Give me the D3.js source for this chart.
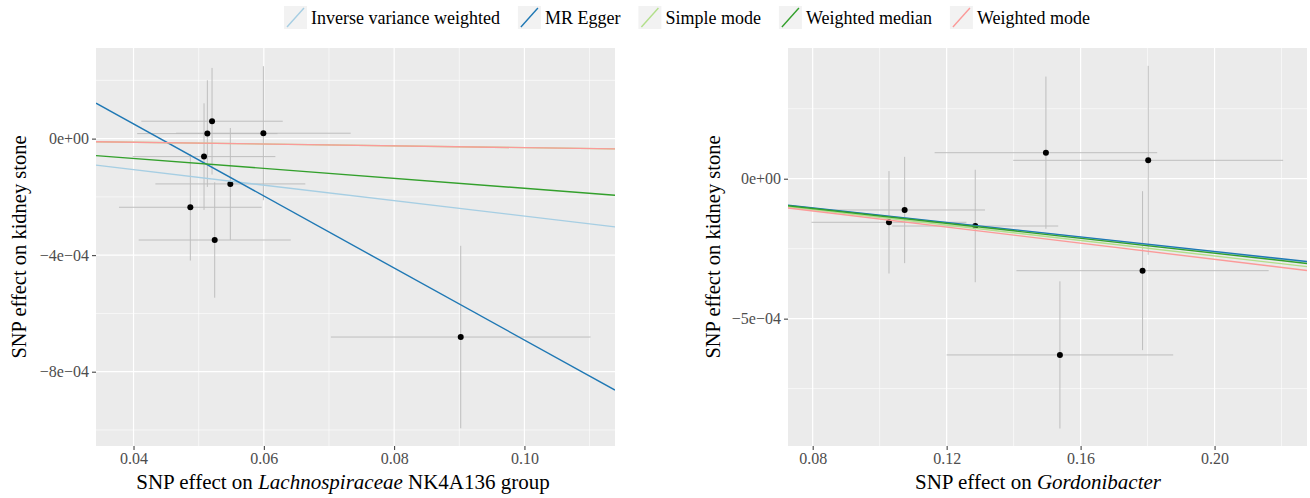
<!DOCTYPE html>
<html>
<head>
<meta charset="utf-8">
<script src="https://cdn.jsdelivr.net/npm/d3@7"></script>
<style>
  body { margin: 0; background: #fff; }
  text { font-family: "Liberation Serif", "Times New Roman", serif; }
</style>
</head>
<body>
<div id="chart"></div>
<script>
// Width and height
var chart_width  = 1310;
var chart_height = 498;

// MR methods (legend order) and colours
var methods       = ["Inverse variance weighted", "MR Egger", "Simple mode", "Weighted median", "Weighted mode"];
var method_colors = ["#a6cee3", "#1f78b4", "#b2df8a", "#33a02c", "#fb9a99"];

// Lachnospiraceae NK4A136 group SNPs
var lach_bx   = [0.05205, 0.05133, 0.05993, 0.05082, 0.05486, 0.04872, 0.05246, 0.09022];
var lach_by   = [5.97e-5, 1.72e-5, 1.85e-5, -6.18e-5, -1.555e-4, -2.356e-4, -3.48e-4, -6.81e-4];
var lach_se_x = [0.01085, 0.01077, 0.0134, 0.01095, 0.01151, 0.01095, 0.01167, 0.01993];
var lach_se_y = [1.83e-4, 1.83e-4, 2.3e-4, 1.83e-4, 1.92e-4, 1.83e-4, 1.98e-4, 3.13e-4];
var lach_intercept = [0, 5.447e-4, 0, 0, 0];
var lach_slope     = [-2.66e-3, -0.01236, -3.1e-4, -1.705e-3, -3.1e-4];
var lach_x_ticks = [0.04, 0.06, 0.08, 0.10];
var lach_x_minor = [0.05, 0.07, 0.09, 0.11];
var lach_y_ticks = [0, -4e-4, -8e-4];
var lach_y_minor = [2e-4, -2e-4, -6e-4, -1e-3];

// Gordonibacter SNPs
var gord_bx   = [0.10278, 0.10746, 0.12854, 0.14964, 0.18018, 0.1785, 0.15382];
var gord_by   = [-1.557e-4, -1.118e-4, -1.69e-4, 9.29e-5, 6.57e-5, -3.286e-4, -6.296e-4];
var gord_se_x = [0.02313, 0.024, 0.02478, 0.03323, 0.0403, 0.03766, 0.03383];
var gord_se_y = [1.83e-4, 1.9e-4, 2.01e-4, 2.72e-4, 3.375e-4, 2.84e-4, 2.63e-4];
var gord_intercept = [0, 0, 0, 0, 0];
var gord_slope     = [-1.31e-3, -1.30e-3, -1.38e-3, -1.33e-3, -1.44e-3];
var gord_x_ticks = [0.08, 0.12, 0.16, 0.20];
var gord_x_minor = [0.10, 0.14, 0.18, 0.22];
var gord_y_ticks = [0, -5e-4];
var gord_y_minor = [2.5e-4, -2.5e-4, -7.5e-4];

// Create SVG
var svg = d3.select("#chart")
  .append("svg")
  .attr("width", chart_width)
  .attr("height", chart_height);

// scientific labels like ggplot: 0e+00, −4e−04
function sci(v){
  if (v === 0) return "0e+00";
  var e = Math.floor(Math.log10(Math.abs(v)));
  var m = Math.round(v / Math.pow(10, e));
  var ee = Math.abs(e) < 10 ? "0" + Math.abs(e) : "" + Math.abs(e);
  return (m < 0 ? "\u2212" : "") + Math.abs(m) + "e" + (e < 0 ? "\u2212" : "+") + ee;
}

function draw_panel(p){
  var x = d3.scaleLinear().domain(p.xdom).range([p.left, p.right]);
  var y = d3.scaleLinear().domain(p.ydom).range([p.bottom, p.top]);
  var g = svg.append("g");

  g.append("rect")
    .attr("x", p.left).attr("y", p.top)
    .attr("width", p.right - p.left).attr("height", p.bottom - p.top)
    .attr("fill", "#ebebeb");

  // grid
  g.selectAll(".xminor").data(p.x_minor.filter(function(d){ return x(d) > p.left && x(d) < p.right; }))
    .enter().append("line")
    .attr("x1", function(d){ return x(d); }).attr("x2", function(d){ return x(d); })
    .attr("y1", p.top).attr("y2", p.bottom)
    .attr("stroke", "#fff").attr("stroke-width", 0.6);
  g.selectAll(".yminor").data(p.y_minor)
    .enter().append("line")
    .attr("y1", function(d){ return y(d); }).attr("y2", function(d){ return y(d); })
    .attr("x1", p.left).attr("x2", p.right)
    .attr("stroke", "#fff").attr("stroke-width", 0.6);
  g.selectAll(".xmajor").data(p.x_ticks)
    .enter().append("line")
    .attr("x1", function(d){ return x(d); }).attr("x2", function(d){ return x(d); })
    .attr("y1", p.top).attr("y2", p.bottom)
    .attr("stroke", "#fff").attr("stroke-width", 1.2);
  g.selectAll(".ymajor").data(p.y_ticks)
    .enter().append("line")
    .attr("y1", function(d){ return y(d); }).attr("y2", function(d){ return y(d); })
    .attr("x1", p.left).attr("x2", p.right)
    .attr("stroke", "#fff").attr("stroke-width", 1.2);

  // axes
  var xaxis = g.append("g")
    .attr("transform", "translate(0," + p.bottom + ")")
    .call(d3.axisBottom(x).tickValues(p.x_ticks).tickFormat(d3.format(".2f")).tickSize(4).tickPadding(3));
  var yaxis = g.append("g")
    .attr("transform", "translate(" + p.left + ",0)")
    .call(d3.axisLeft(y).tickValues(p.y_ticks).tickFormat(sci).tickSize(4).tickPadding(3));
  [xaxis, yaxis].forEach(function(a){
    a.attr("font-family", null);
    a.select(".domain").remove();
    a.selectAll("line").attr("stroke", "#333");
    a.selectAll("text").attr("fill", "#4d4d4d").style("font-size", "16px");
  });

  // error bars
  var n = d3.range(p.bx.length);
  g.selectAll(".ebv").data(n).enter().append("line")
    .attr("x1", function(i){ return x(p.bx[i]); }).attr("x2", function(i){ return x(p.bx[i]); })
    .attr("y1", function(i){ return y(p.by[i] - p.se_y[i]); })
    .attr("y2", function(i){ return y(p.by[i] + p.se_y[i]); })
    .attr("stroke", "#bebebe").attr("stroke-width", 1);
  g.selectAll(".ebh").data(n).enter().append("line")
    .attr("y1", function(i){ return y(p.by[i]); }).attr("y2", function(i){ return y(p.by[i]); })
    .attr("x1", function(i){ return x(p.bx[i] - p.se_x[i]); })
    .attr("x2", function(i){ return x(p.bx[i] + p.se_x[i]); })
    .attr("stroke", "#bebebe").attr("stroke-width", 1);
  g.selectAll("circle").data(n).enter().append("circle")
    .attr("cx", function(i){ return x(p.bx[i]); })
    .attr("cy", function(i){ return y(p.by[i]); })
    .attr("r", 3)
    .attr("fill", "#000");

  // regression lines, clipped to the panel
  var clip_id = "clip" + p.id;
  svg.append("clipPath").attr("id", clip_id)
    .append("rect")
    .attr("x", p.left).attr("y", p.top)
    .attr("width", p.right - p.left).attr("height", p.bottom - p.top);
  g.append("g").attr("clip-path", "url(#" + clip_id + ")")
    .selectAll("line").data(d3.range(methods.length)).enter().append("line")
    .attr("x1", x(p.xdom[0])).attr("x2", x(p.xdom[1]))
    .attr("y1", function(i){ return y(p.intercept[i] + p.slope[i] * p.xdom[0]); })
    .attr("y2", function(i){ return y(p.intercept[i] + p.slope[i] * p.xdom[1]); })
    .attr("stroke", function(i){ return method_colors[i]; })
    .attr("stroke-width", 1.4);

  // titles
  var xt = g.append("text")
    .attr("x", p.xtitle_x).attr("y", 489)
    .attr("text-anchor", "middle")
    .style("font-size", "21px").attr("fill", "#000");
  xt.append("tspan").text("SNP effect on ");
  xt.append("tspan").style("font-style", "italic").text(p.italic);
  if (p.after) xt.append("tspan").text(p.after);

  g.append("text")
    .attr("transform", "translate(" + p.ytitle_x + "," + ((p.top + p.bottom) / 2) + ") rotate(-90)")
    .attr("text-anchor", "middle")
    .style("font-size", "20.5px").attr("fill", "#000")
    .text("SNP effect on kidney stone");
}

draw_panel({
  id: 1, left: 96, right: 615, top: 48, bottom: 446,
  xdom: [0.03424, 0.1139], ydom: [-1.055e-3, 3.11e-4],
  bx: lach_bx, by: lach_by, se_x: lach_se_x, se_y: lach_se_y,
  intercept: lach_intercept, slope: lach_slope,
  x_ticks: lach_x_ticks, x_minor: lach_x_minor, y_ticks: lach_y_ticks, y_minor: lach_y_minor,
  italic: "Lachnospiraceae", after: " NK4A136 group", xtitle_x: 343, ytitle_x: 26
});

draw_panel({
  id: 2, left: 788, right: 1307, top: 48, bottom: 446,
  xdom: [0.07263, 0.2276], ydom: [-9.55e-4, 4.67e-4],
  bx: gord_bx, by: gord_by, se_x: gord_se_x, se_y: gord_se_y,
  intercept: gord_intercept, slope: gord_slope,
  x_ticks: gord_x_ticks, x_minor: gord_x_minor, y_ticks: gord_y_ticks, y_minor: gord_y_minor,
  italic: "Gordonibacter", after: "", xtitle_x: 1038, ytitle_x: 720
});

// legend
var legend = svg.append("g").attr("transform", "translate(284,6)");
var lx = 0;
methods.forEach(function(m, i){
  var item = legend.append("g").attr("transform", "translate(" + lx + ",0)");
  item.append("rect").attr("width", 23).attr("height", 23).attr("fill", "#f2f2f2");
  item.append("line")
    .attr("x1", 3).attr("y1", 21).attr("x2", 20).attr("y2", 2)
    .attr("stroke", method_colors[i]).attr("stroke-width", 1.4);
  var t = item.append("text")
    .attr("x", 27).attr("y", 18)
    .style("font-size", "18px").attr("fill", "#000")
    .text(m);
  lx += 27 + t.node().getComputedTextLength() + 18;
});
</script>
</body>
</html>
